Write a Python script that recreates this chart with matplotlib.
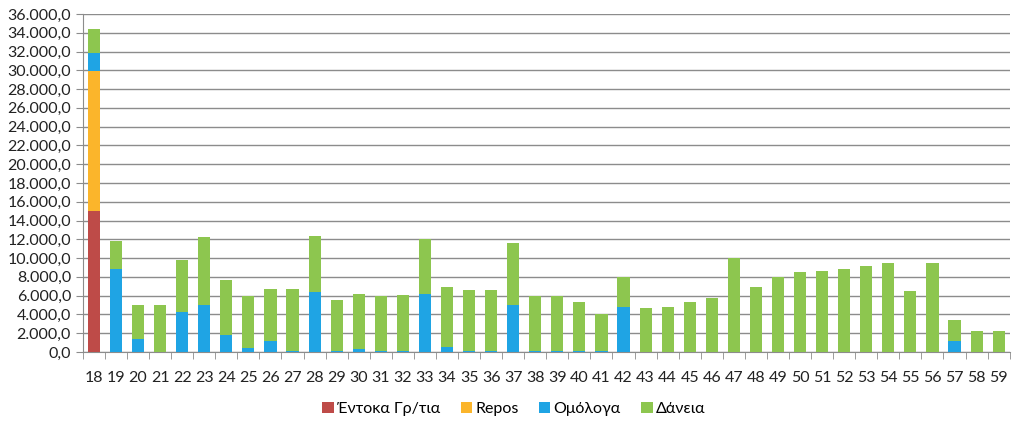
import matplotlib
matplotlib.use('Agg')
import matplotlib.pyplot as plt
import numpy as np
from matplotlib.ticker import FuncFormatter, FixedLocator

plt.rcParams['font.family'] = ['Lato', 'Noto Sans', 'DejaVu Sans']

years = [str(y) for y in range(18, 60)]

entoka = [15000] + [0] * 41
repos = [14900] + [0] * 41
omologa = [1900, 8830, 1340, 0, 4270, 4970, 1770, 470, 1170, 150,
           6400, 150, 280, 150, 150, 6200, 530, 150, 150, 5050,
           150, 150, 150, 150, 4830, 0, 0, 0, 0, 0,
           0, 0, 0, 0, 0, 0, 0, 0, 0, 1170,
           0, 0]
daneia = [2600, 2970, 3710, 5050, 5530, 7280, 5930, 5530, 5530, 6550,
          5950, 5430, 5920, 5850, 5950, 5800, 6370, 6450, 6450, 6520,
          5850, 5850, 5220, 3850, 3140, 4700, 4800, 5370, 5790, 9980,
          6900, 8000, 8470, 8570, 8820, 9140, 9460, 6500, 9500, 2180,
          2220, 2220]

colors = ['#BE4B48', '#FBB52B', '#1FA4E4', '#8DC64F']
labels = ['Έντοκα Γρ/τια', 'Repos', 'Ομόλογα', 'Δάνεια']

fig = plt.figure(figsize=(10.23, 4.23), dpi=100)
ax = fig.add_axes([0.081, 0.168, 0.906, 0.799])

x = np.arange(len(years))
bottom = np.zeros(len(years))
for vals, c, lab in zip([entoka, repos, omologa, daneia], colors, labels):
    ax.bar(x, vals, 0.55, bottom=bottom, color=c, label=lab, zorder=3)
    bottom += np.array(vals)

ax.set_ylim(0, 36000)
ax.set_xlim(-0.5, len(years) - 0.5)
ax.set_yticks(np.arange(0, 36001, 2000))
ax.yaxis.set_major_formatter(FuncFormatter(
    lambda v, p: '{:,.1f}'.format(v).replace(',', 'X').replace('.', ',').replace('X', '.')))
ax.grid(axis='y', color='#8C8C8C', linewidth=1, zorder=0)

ax.set_xticks(x)
ax.set_xticklabels(years)
ax.xaxis.set_minor_locator(FixedLocator(np.arange(-0.5, len(years), 1)))
ax.tick_params(axis='x', which='major', length=0, pad=14, labelsize=11.5, colors='#222222')
ax.tick_params(axis='x', which='minor', length=5, color='#8C8C8C')
ax.tick_params(axis='y', length=5, color='#8C8C8C', labelsize=11.5, labelcolor='#222222')

for s in ['top', 'right']:
    ax.spines[s].set_visible(False)
ax.spines['left'].set_color('#8C8C8C')
ax.spines['bottom'].set_color('#8C8C8C')

ax.legend(loc='center', bbox_to_anchor=(0.465, -0.168), ncol=4, frameon=False,
          fontsize=11.5, handlelength=0.7, handleheight=0.7, handletextpad=0.2,
          columnspacing=1.3)

fig.savefig('out.png', dpi=100)
